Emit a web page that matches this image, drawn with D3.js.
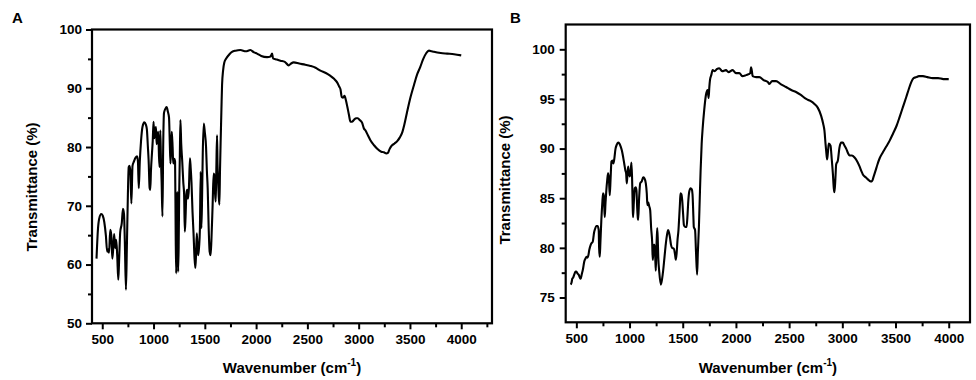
<!DOCTYPE html>
<html><head><meta charset="utf-8">
<script src="https://cdn.jsdelivr.net/npm/d3@7/dist/d3.min.js"></script>
<style>
html,body{margin:0;padding:0;background:#fff;}
svg{display:block;}
text{font-family:"Liberation Sans",Arial,sans-serif;font-weight:bold;fill:#000;}
</style></head>
<body>
<svg id="c" width="976" height="380"></svg>
<script>
// ---- Panel A data ----
const waveA = [444,458,470,490,505,520,535,548,558,566,578,588,598,606,616,626,636,646,656,664,675,690,702,712,720,731,740,750,758,766,774,784,795,808,825,840,848,856,866,878,892,910,925,935,945,952,962,968,975,985,992,1000,1008,1016,1024,1030,1038,1046,1053,1059,1066,1072,1079,1087,1094,1102,1115,1128,1140,1151,1158,1165,1172,1178,1186,1192,1203,1210,1216,1221,1226,1231,1236,1240,1245,1250,1256,1262,1270,1280,1290,1298,1305,1312,1320,1328,1336,1345,1355,1362,1370,1380,1390,1400,1408,1415,1422,1430,1436,1444,1452,1460,1466,1472,1480,1490,1500,1512,1520,1528,1538,1547,1556,1564,1576,1586,1593,1600,1606,1612,1619,1624,1629,1636,1642,1648,1655,1662,1668,1678,1690,1710,1740,1765,1800,1847,1900,1944,1980,2009,2050,2107,2140,2156,2165,2200,2237,2280,2318,2340,2367,2420,2480,2530,2580,2627,2680,2725,2760,2790,2810,2823,2835,2848,2862,2875,2890,2905,2920,2935,2953,2975,2992,3010,3034,3050,3067,3090,3116,3150,3181,3220,3246,3270,3285,3300,3320,3350,3376,3400,3425,3445,3470,3506,3540,3571,3600,3630,3660,3685,3710,3734,3800,3864,3930,4000];
const transA = [61.0,66.0,67.8,68.6,68.3,67.2,65.0,62.2,62.6,62.0,65.9,65.0,61.0,62.5,65.2,62.8,64.2,61.5,57.4,60.5,65.5,67.0,69.5,68.6,64.0,55.7,63.0,72.0,76.6,76.8,75.8,70.4,76.8,77.5,78.2,78.4,77.5,73.0,77.5,81.0,83.4,84.2,83.8,83.0,80.0,77.8,73.0,72.7,76.0,79.0,81.0,84.3,81.5,83.0,83.4,80.5,81.5,82.6,78.5,76.6,82.8,78.0,74.0,68.2,80.0,85.8,86.5,86.8,86.0,85.0,81.0,77.2,80.0,82.6,80.0,77.2,78.0,77.5,65.0,58.5,65.0,72.4,64.0,58.8,63.0,72.0,78.0,84.6,80.5,77.5,74.0,72.0,65.6,68.0,72.0,72.7,71.2,73.0,78.1,76.5,74.0,69.0,65.3,61.0,59.4,62.0,65.3,62.5,61.6,63.0,66.0,75.8,66.2,70.0,79.0,84.0,82.5,80.0,76.0,73.0,66.0,62.2,61.6,64.0,70.1,75.5,75.2,72.0,70.7,76.0,82.0,77.0,74.7,71.5,70.2,76.0,81.5,86.5,90.5,93.0,94.4,95.1,95.8,96.2,96.4,96.5,96.3,96.5,96.1,95.9,95.5,95.3,95.4,95.9,95.1,94.9,94.7,94.5,93.9,94.2,94.4,94.2,94.0,93.8,93.5,93.0,92.6,92.1,91.6,91.0,90.3,89.8,88.5,88.4,88.7,88.0,86.8,85.5,84.3,84.3,84.6,84.9,84.9,84.6,84.1,83.2,82.8,82.0,81.1,80.3,79.7,79.2,79.1,78.9,79.0,79.6,80.2,80.6,81.0,81.6,82.5,83.8,85.8,88.5,90.6,92.4,93.6,95.0,96.0,96.4,96.3,96.2,96.0,95.9,95.8,95.6];

// ---- Panel B data ----
const waveB = [447,455,462,470,480,492,500,512,522,533,541,550,563,574,585,596,604,612,622,635,645,654,660,666,676,688,700,710,714,720,726,735,744,751,758,763,767,774,782,790,798,806,814,822,830,840,848,856,867,880,892,905,917,928,939,950,961,968,974,980,987,995,1002,1010,1018,1024,1030,1033,1040,1049,1058,1065,1072,1078,1081,1090,1100,1115,1128,1140,1153,1162,1168,1175,1185,1194,1203,1213,1218,1222,1228,1235,1241,1247,1253,1260,1265,1270,1280,1294,1305,1316,1328,1341,1352,1363,1372,1379,1390,1400,1417,1428,1435,1443,1451,1460,1467,1474,1479,1487,1495,1503,1511,1522,1536,1545,1551,1562,1574,1585,1592,1600,1604,1616,1625,1635,1642,1652,1660,1668,1678,1687,1702,1718,1734,1743,1750,1756,1768,1781,1800,1820,1843,1870,1906,1930,1969,2000,2032,2060,2095,2120,2135,2142,2150,2157,2190,2220,2260,2300,2314,2340,2377,2420,2471,2520,2565,2610,2660,2700,2738,2770,2801,2820,2832,2842,2848,2857,2866,2873,2889,2900,2911,2920,2926,2935,2942,2958,2973,2990,3005,3020,3036,3055,3068,3090,3115,3140,3162,3180,3193,3220,3240,3265,3278,3295,3313,3330,3350,3380,3413,3445,3476,3510,3539,3570,3601,3625,3648,3670,3696,3720,3758,3800,3850,3900,3950,4000];
const transB = [76.3,76.5,76.9,77.0,77.3,77.6,77.6,77.4,77.3,77.0,76.9,77.3,77.9,78.6,78.9,79.1,79.0,79.2,79.8,80.3,80.5,80.6,81.0,81.5,81.9,82.2,82.2,81.8,80.0,79.1,80.5,82.8,84.5,85.5,85.3,84.0,83.1,84.5,85.8,86.8,87.5,87.0,85.3,87.0,88.7,88.8,88.5,88.9,89.9,90.4,90.6,90.5,90.2,89.8,89.2,88.5,87.8,87.5,86.5,87.3,88.2,87.5,87.2,87.6,88.6,87.0,84.0,83.1,84.5,86.0,86.1,85.8,84.0,83.0,82.8,85.0,86.5,86.7,87.1,87.0,86.5,85.5,84.3,84.6,84.2,83.8,82.0,80.5,78.8,79.3,80.3,80.3,79.2,77.7,80.0,82.0,81.0,79.1,77.5,76.3,76.8,77.7,79.0,80.4,81.3,81.8,81.5,81.1,80.3,80.0,79.9,79.3,78.8,79.5,80.8,81.8,83.1,84.5,85.5,85.4,84.8,83.5,82.3,82.1,82.1,83.3,84.5,85.7,86.0,85.9,85.4,83.2,82.1,81.8,79.5,77.3,79.5,82.1,85.0,87.8,90.5,92.0,93.9,95.4,95.9,95.1,96.2,96.9,97.4,97.9,97.8,98.0,98.1,97.8,97.9,97.7,97.9,97.6,97.6,97.3,97.4,97.5,97.6,98.2,97.8,97.3,97.2,97.2,96.9,96.7,96.5,96.8,96.8,96.5,96.2,95.9,95.7,95.4,95.0,94.8,94.5,94.1,93.3,92.5,91.8,90.5,89.8,88.9,89.8,90.5,90.3,89.0,87.5,86.0,85.6,87.0,88.4,88.8,90.1,90.6,90.6,90.3,90.0,89.5,89.3,89.3,89.1,88.7,88.2,87.7,87.4,87.1,86.9,86.7,86.7,87.2,87.8,88.4,89.0,89.6,90.2,90.8,91.5,92.3,93.2,94.2,95.2,96.0,96.7,97.1,97.2,97.3,97.3,97.2,97.1,97.1,97.0,97.0];

// ---- Tick values ----
const xMajor = [500,1000,1500,2000,2500,3000,3500,4000];
const xMinorA = [750,1250,1750,2250,2750,3250,3750,4250];
const xMinorB = [750,1250,1750,2250,2750,3250,3750];
const yMajorA = [50,60,70,80,90,100];
const yMinorA = [55,65,75,85,95];
const yMajorB = [75,80,85,90,95,100];
const yMinorB = [77.5,82.5,87.5,92.5,97.5];

const svg = d3.select("#c");

function panel(cfg){
  const x = d3.scaleLinear().domain(cfg.xDom).range([cfg.left, cfg.right]);
  const y = d3.scaleLinear().domain(cfg.yDom).range([cfg.bottom, cfg.top]);
  const g = svg.append("g");

  // minor ticks
  g.append("g").attr("transform",`translate(0,${cfg.bottom})`)
    .call(d3.axisBottom(x).tickValues(cfg.xMinor).tickSize(4).tickFormat(""))
    .call(s=>{s.select(".domain").remove(); s.selectAll("line").attr("stroke","#000").attr("stroke-width",2);});
  g.append("g").attr("transform",`translate(${cfg.left},0)`)
    .call(d3.axisLeft(y).tickValues(cfg.yMinor).tickSize(4).tickFormat(""))
    .call(s=>{s.select(".domain").remove(); s.selectAll("line").attr("stroke","#000").attr("stroke-width",2);});
  // major ticks
  g.append("g").attr("transform",`translate(0,${cfg.bottom})`)
    .call(d3.axisBottom(x).tickValues(xMajor).tickSize(6).tickPadding(5).tickFormat(d3.format("d")))
    .call(s=>{s.select(".domain").remove(); s.selectAll("line").attr("stroke","#000").attr("stroke-width",2);
      s.selectAll("text").attr("font-size","13.5px").attr("font-family",'"Liberation Sans",Arial,sans-serif').attr("font-weight","bold").attr("fill","#000");});
  g.append("g").attr("transform",`translate(${cfg.left},0)`)
    .call(d3.axisLeft(y).tickValues(cfg.yMajor).tickSize(6).tickPadding(cfg.yPad).tickFormat(d3.format("d")))
    .call(s=>{s.select(".domain").remove(); s.selectAll("line").attr("stroke","#000").attr("stroke-width",2);
      s.selectAll("text").attr("font-size","13.5px").attr("font-family",'"Liberation Sans",Arial,sans-serif').attr("font-weight","bold").attr("fill","#000");});

  // curve
  const pts = cfg.wave.map((w,i)=>[w, cfg.trans[i]]);
  g.append("path").datum(pts)
    .attr("fill","none").attr("stroke","#000").attr("stroke-width",2.1)
    .attr("stroke-linejoin","round")
    .attr("d", d3.line().x(d=>x(d[0])).y(d=>y(d[1])).curve(d3.curveMonotoneX));

  // frame
  g.append("rect").attr("x",cfg.left).attr("y",cfg.top)
    .attr("width",cfg.right-cfg.left).attr("height",cfg.bottom-cfg.top)
    .attr("fill","none").attr("stroke","#000").attr("stroke-width",2.2);

  // panel letter
  g.append("text").attr("x",cfg.letterX).attr("y",23).attr("font-size","15px").text(cfg.letter);

  // y title
  g.append("text").attr("transform",`translate(${cfg.yTitleX},${cfg.yTitleY}) rotate(-90)`)
    .attr("text-anchor","middle").attr("font-size","15px").text("Transmittance (%)");

  // x title
  const xt = g.append("text").attr("x",(cfg.left+cfg.right)/2).attr("y",373)
    .attr("text-anchor","middle").attr("font-size","15px");
  xt.append("tspan").text("Wavenumber (cm");
  xt.append("tspan").attr("font-size","10px").attr("dy",-7).text("-1");
  xt.append("tspan").attr("dy",7).text(")");
}

panel({left:92, right:492, top:29.5, bottom:323.3, xDom:[400,4300], yDom:[50,100],
  xMinor:xMinorA, yMajor:yMajorA, yMinor:yMinorA, wave:waveA, trans:transA, yPad:4,
  letter:"A", letterX:12, yTitleX:37, yTitleY:187});
panel({left:565.7, right:970, top:24.5, bottom:322.3, xDom:[400,4200], yDom:[72.5,102.5],
  xMinor:xMinorB, yMajor:yMajorB, yMinor:yMinorB, wave:waveB, trans:transB, yPad:5,
  letter:"B", letterX:510, yTitleX:510, yTitleY:180});
</script>
</body></html>
